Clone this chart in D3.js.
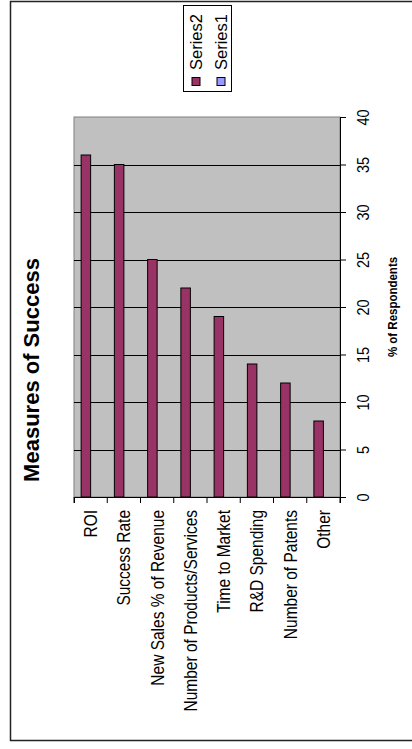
<!DOCTYPE html>
<html>
<head>
<meta charset="utf-8">
<script src="https://cdn.jsdelivr.net/npm/d3@7"></script>
<style>
  body { margin: 0; background: #fff; }
  svg { display: block; font-family: Arial, "Liberation Sans", sans-serif; }
</style>
</head>
<body>
<svg id="chart" width="412" height="749"></svg>
<script>
var categories = ["ROI", "Success Rate", "New Sales % of Revenue", "Number of Products/Services",
                  "Time to Market", "R&D Spending", "Number of Patents", "Other"];
var series2 = [36, 35, 25, 22, 19, 14, 12, 8];
var series1 = [null, null, null, null, null, null, null, null];
var seriesNames = ["Series2", "Series1"];
var seriesColors = ["#993366", "#9999FF"];
var valueTicks = [0, 5, 10, 15, 20, 25, 30, 35, 40];

var plot = {left: 74, right: 340, top: 117, bottom: 497};

var svg = d3.select('#chart');

// chart border
svg.append('rect')
    .attr('x', 10.5).attr('y', 1.5)
    .attr('width', 410).attr('height', 739)
    .attr('fill', 'none')
    .attr('stroke', '#222')
    .attr('stroke-width', 1.5);

var xScale = d3.scaleBand()
    .domain(categories)
    .range([plot.left, plot.right])
    .paddingInner(0).paddingOuter(0);

var xSub = d3.scaleBand()
    .domain(seriesNames)
    .range([0, xScale.bandwidth()])
    .paddingInner(0).paddingOuter(0.75);

var yScale = d3.scaleLinear()
    .domain([0, 40])
    .range([plot.bottom, plot.top]);

// plot area
svg.append('rect')
    .attr('x', plot.left).attr('y', plot.top)
    .attr('width', plot.right - plot.left).attr('height', plot.bottom - plot.top)
    .attr('fill', '#C0C0C0')
    .attr('stroke', '#808080')
    .attr('stroke-width', 1);

// gridlines
svg.append('g').selectAll('line')
    .data(valueTicks.filter(d => d > 0 && d < 40))
    .enter().append('line')
    .attr('x1', plot.left).attr('x2', plot.right)
    .attr('y1', d => Math.round(yScale(d)) + 0.5)
    .attr('y2', d => Math.round(yScale(d)) + 0.5)
    .attr('stroke', '#000')
    .attr('stroke-width', 1);

// bars
var rows = categories.map(function (c, i) {
    return {cat: c, values: [{s: "Series2", v: series2[i]}, {s: "Series1", v: series1[i]}]};
});

svg.append('g').selectAll('g')
    .data(rows)
    .enter().append('g')
    .attr('transform', d => `translate(${xScale(d.cat)},0)`)
    .selectAll('rect')
    .data(d => d.values.filter(v => v.v != null))
    .enter().append('rect')
    .attr('x', d => xSub(d.s))
    .attr('y', d => yScale(d.v))
    .attr('width', xSub.bandwidth())
    .attr('height', d => plot.bottom - yScale(d.v))
    .attr('fill', d => seriesColors[seriesNames.indexOf(d.s)])
    .attr('stroke', '#000')
    .attr('stroke-width', 1);

// value axis on the right, labels turned
var yAxis = svg.append('g')
    .attr('transform', `translate(${plot.right},0)`)
    .call(d3.axisRight(yScale).tickValues(valueTicks).tickSize(6).tickPadding(0));
yAxis.select('.domain').attr('stroke', '#000');
yAxis.selectAll('text')
    .attr('x', 0).attr('y', 0)
    .attr('transform', 'translate(23,0) rotate(-90) scale(1,1.2)')
    .attr('text-anchor', 'middle')
    .attr('dy', '0.35em')
    .attr('font-size', 14.5)
    .attr('font-family', 'Arial, "Liberation Sans", sans-serif')
    .attr('fill', '#000');

// category axis at the bottom
var xAxis = svg.append('g')
    .attr('transform', `translate(0,${plot.bottom})`)
    .call(d3.axisBottom(xScale).tickSize(6).tickSizeOuter(6).tickPadding(0));
xAxis.select('.domain').attr('stroke', '#000');
xAxis.selectAll('.tick line')
    .attr('transform', `translate(${-xScale.bandwidth() / 2},0)`);
xAxis.append('line')
    .attr('x1', plot.right).attr('x2', plot.right)
    .attr('y1', 0).attr('y2', 6).attr('stroke', '#000');
xAxis.selectAll('text')
    .attr('y', 0)
    .attr('transform', 'translate(0,13) rotate(-90) scale(1,1.2)')
    .attr('text-anchor', 'end')
    .attr('dy', '0.35em')
    .attr('font-size', 15.5)
    .attr('font-family', 'Arial, "Liberation Sans", sans-serif')
    .attr('fill', '#000');

// titles
svg.append('text')
    .attr('transform', 'translate(31,370) rotate(-90)')
    .attr('text-anchor', 'middle')
    .attr('dy', '0.35em')
    .attr('font-size', 22)
    .attr('font-weight', 'bold')
    .text('Measures of Success');

svg.append('text')
    .attr('transform', `translate(392,${(plot.top + plot.bottom) / 2}) rotate(-90) scale(1,1.15)`)
    .attr('text-anchor', 'middle')
    .attr('dy', '0.35em')
    .attr('font-size', 11.5)
    .attr('font-weight', 'bold')
    .text('% of Respondents');

// legend
var legend = svg.append('g');
legend.append('rect')
    .attr('x', 183.5).attr('y', 5.5)
    .attr('width', 48).attr('height', 86)
    .attr('fill', '#fff')
    .attr('stroke', '#000')
    .attr('stroke-width', 1);

var items = legend.selectAll('g.item')
    .data(seriesNames)
    .enter().append('g')
    .attr('class', 'item')
    .attr('transform', (d, i) => `translate(${196 + i * 25},0)`);
items.append('rect')
    .attr('x', -4).attr('y', 77.5)
    .attr('width', 8).attr('height', 8)
    .attr('fill', (d, i) => seriesColors[i])
    .attr('stroke', '#000')
    .attr('stroke-width', 1);
items.append('text')
    .attr('transform', 'translate(0,70) rotate(-90)')
    .attr('text-anchor', 'start')
    .attr('dy', '0.35em')
    .attr('font-size', 16.5)
    .text(d => d);
</script>
</body>
</html>
